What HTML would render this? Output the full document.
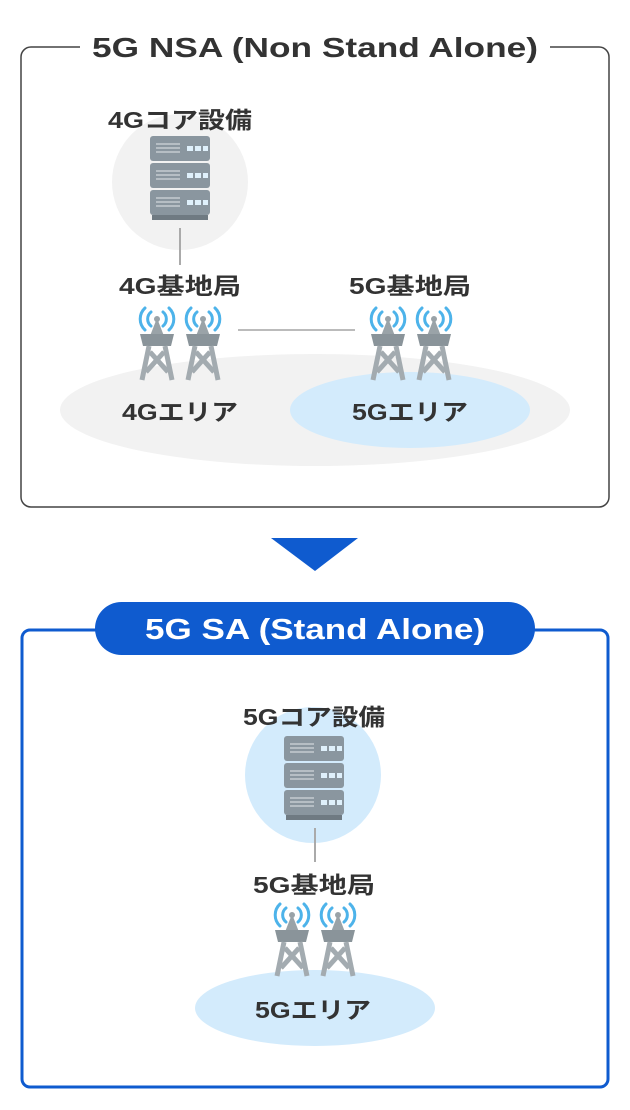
<!DOCTYPE html>
<html><head><meta charset="utf-8"><style>
html,body{margin:0;padding:0;background:#fff;}
svg{display:block}
text{font-family:"Liberation Sans","Noto Sans CJK JP",sans-serif;font-weight:bold;fill:#333;text-anchor:middle}
</style></head><body>
<svg width="630" height="1110" viewBox="0 0 630 1110" xmlns="http://www.w3.org/2000/svg">
<defs>
<g id="tw">
  <g fill="none" stroke="#4db3ea" stroke-width="3" stroke-linecap="round">
    <path d="M-6,6 A9,9 0 0 0 -6,20"/><path d="M6,6 A9,9 0 0 1 6,20"/>
    <path d="M-12,2 A15,15 0 0 0 -12,24"/><path d="M12,2 A15,15 0 0 1 12,24"/>
  </g>
  <circle cx="0" cy="13" r="3" fill="#9aa3a8"/>
  <path d="M0,12 L-7,30 L7,30 Z" fill="#9aa3a8"/>
  <path d="M-17,28 L17,28 L14,40 L-14,40 Z" fill="#8a949a"/>
  <g stroke="#a3abb0" stroke-width="5" fill="none">
    <path d="M-8,40 L-15,74 M8,40 L15,74 M-7,46 L11,66 M7,46 L-11,66"/>
  </g>
</g>
<g id="srv">
  <rect x="0" y="0" width="60" height="25" rx="3" fill="#8a969f"/>
  <rect x="0" y="27" width="60" height="25" rx="3" fill="#8a969f"/>
  <rect x="0" y="54" width="60" height="25" rx="3" fill="#8a969f"/>
  <rect x="2" y="79" width="56" height="5" fill="#6f7a82"/>
  <g stroke="#c5ccd1" stroke-width="1.5">
    <path d="M6,8H30M6,12H30M6,16H30M6,35H30M6,39H30M6,43H30M6,62H30M6,66H30M6,70H30"/>
  </g>
  <g fill="#dff0fb">
    <rect x="37" y="10" width="6" height="5"/><rect x="45" y="10" width="6" height="5"/><rect x="53" y="10" width="5" height="5"/>
    <rect x="37" y="37" width="6" height="5"/><rect x="45" y="37" width="6" height="5"/><rect x="53" y="37" width="5" height="5"/>
    <rect x="37" y="64" width="6" height="5"/><rect x="45" y="64" width="6" height="5"/><rect x="53" y="64" width="5" height="5"/>
  </g>
</g>
</defs>

<!-- top box -->
<rect x="21" y="47" width="588" height="460" rx="10" fill="none" stroke="#444" stroke-width="1.5"/>
<rect x="80" y="30" width="470" height="34" fill="#fff"/>
<text x="315" y="57" font-size="28" textLength="446" lengthAdjust="spacingAndGlyphs">5G NSA (Non Stand Alone)</text>

<ellipse cx="315" cy="410" rx="255" ry="56" fill="#f2f2f2"/>
<ellipse cx="410" cy="410" rx="120" ry="38" fill="#d3ebfc"/>
<circle cx="180" cy="182" r="68" fill="#f2f2f2"/>
<use href="#srv" x="150" y="136"/>
<line x1="180" y1="228" x2="180" y2="265" stroke="#aaa" stroke-width="2"/>
<line x1="238" y1="330" x2="355" y2="330" stroke="#bbb" stroke-width="2"/>
<text x="180" y="128" font-size="23" textLength="144" lengthAdjust="spacingAndGlyphs">4Gコア設備</text>
<text x="180" y="294" font-size="23" textLength="122" lengthAdjust="spacingAndGlyphs">4G基地局</text>
<text x="410" y="294" font-size="23" textLength="122" lengthAdjust="spacingAndGlyphs">5G基地局</text>
<use href="#tw" x="157" y="306"/><use href="#tw" x="203" y="306"/>
<use href="#tw" x="388" y="306"/><use href="#tw" x="434" y="306"/>
<text x="180" y="420" font-size="23" textLength="116" lengthAdjust="spacingAndGlyphs">4Gエリア</text>
<text x="410" y="420" font-size="23" textLength="116" lengthAdjust="spacingAndGlyphs">5Gエリア</text>

<!-- arrow -->
<path d="M271,538 L358,538 L315,571 Z" fill="#0f5bcf"/>

<!-- bottom box -->
<rect x="22" y="630" width="586" height="457" rx="8" fill="none" stroke="#0f5bcf" stroke-width="3"/>
<rect x="95" y="602" width="440" height="53" rx="26.5" fill="#0f5bcf"/>
<text x="315" y="639" font-size="29" textLength="340" lengthAdjust="spacingAndGlyphs" style="fill:#fff">5G SA (Stand Alone)</text>

<circle cx="313" cy="775" r="68" fill="#d3ebfc"/>
<use href="#srv" x="284" y="736"/>
<line x1="315" y1="828" x2="315" y2="862" stroke="#aaa" stroke-width="2"/>
<text x="314" y="725" font-size="23" textLength="142" lengthAdjust="spacingAndGlyphs">5Gコア設備</text>
<text x="314" y="893" font-size="23" textLength="122" lengthAdjust="spacingAndGlyphs">5G基地局</text>
<ellipse cx="315" cy="1008" rx="120" ry="38" fill="#d3ebfc"/>
<use href="#tw" x="292" y="902"/><use href="#tw" x="338" y="902"/>
<text x="313" y="1018" font-size="23" textLength="116" lengthAdjust="spacingAndGlyphs">5Gエリア</text>
</svg>
</body></html>
